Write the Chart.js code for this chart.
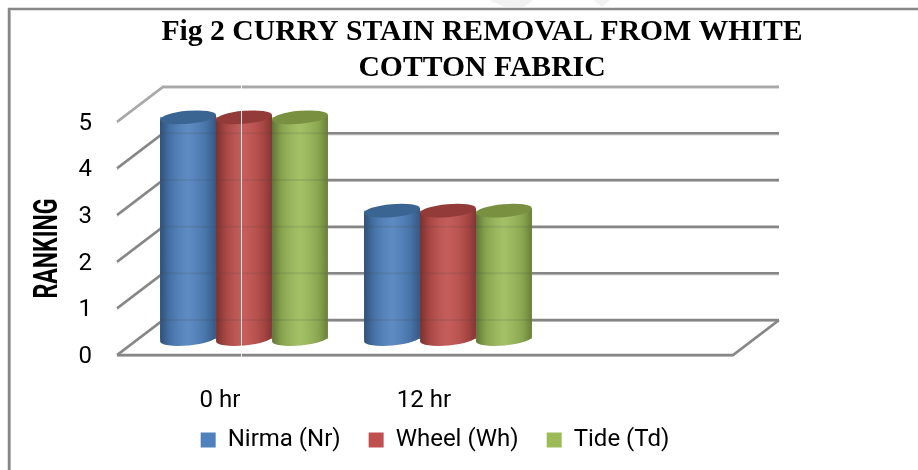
<!DOCTYPE html>
<html>
<head>
<meta charset="utf-8">
<script src="https://cdn.jsdelivr.net/npm/chart.js@4/dist/chart.umd.min.js"></script>
<style>
body { margin: 0; background: #fff; }
#wrap { position: relative; width: 918px; height: 470px; }
</style>
</head>
<body>
<div id="wrap"><canvas id="barChart" width="918" height="470"></canvas></div>
<script>
const categories = ['0 hr', '12 hr', ''];
const nirma = [4.75, 2.75, null];
const wheel = [4.75, 2.75, null];
const tide = [4.75, 2.75, null];
const yTicks = [0, 1, 2, 3, 4, 5];
const yTitle = 'RANKING';

// depth offsets of the fake 3D box, relative to the plane the bars stand on
const FRONT_DY = 16, BACK_DY = -19, FRONT_DX = -25, BACK_DX = 21;

function line(ctx, pts, color, width) {
    ctx.beginPath();
    pts.forEach((p, i) => i ? ctx.lineTo(p[0], p[1]) : ctx.moveTo(p[0], p[1]));
    ctx.strokeStyle = color;
    ctx.lineWidth = width;
    ctx.stroke();
}

const box3d = {
    id: 'box3d',
    beforeInit(chart) {
        // legend is placed by hand in afterLayout, so it should not eat into the axes
        const fit = chart.legend.fit;
        chart.legend.fit = function () {
            fit.call(this);
            this.height = 10;
        };
    },
    afterLayout(chart) {
        // title and legend are not centred on the canvas in the reference
        const t = chart.titleBlock, l = chart.legend;
        t.left = 482 - t.width / 2;
        t.right = 482 + t.width / 2;
        l.left = 435 - l.width / 2;
        l.right = 435 + l.width / 2;
        l.top = 400;
    },
    beforeDraw(chart) {
        const ctx = chart.ctx;
        ctx.save();
        // faint watermark remains at the top edge
        ctx.fillStyle = '#f1f1f1';
        ctx.beginPath();
        ctx.moveTo(489, 0); ctx.lineTo(533, 0); ctx.lineTo(524, 7); ctx.lineTo(505, 7);
        ctx.closePath();
        ctx.moveTo(593, 0); ctx.lineTo(610, 0); ctx.lineTo(602, 7);
        ctx.closePath();
        ctx.fill();
        line(ctx, [[10.5, 470], [10.5, 11]], '#c4c4c4', 1);
        line(ctx, [[9, 470], [9, 9], [918, 9]], '#868686', 2.5);
        ctx.restore();
    },
    beforeDatasetsDraw(chart) {
        const ctx = chart.ctx, a = chart.chartArea, y = chart.scales.y;
        ctx.save();
        yTicks.forEach(v => {
            const py = y.getPixelForValue(v);
            const pts = [[a.left + FRONT_DX, py + FRONT_DY], [a.left + BACK_DX, py + BACK_DY], [a.right + 25, py + BACK_DY]];
            line(ctx, pts.map(p => [p[0], p[1] + 1.5]), '#c8c8c8', 1);
            line(ctx, pts, v === 5 ? '#a8a8a8' : '#868686', 2.5);
        });
        // floor
        const py = y.getPixelForValue(0);
        const floor = [[a.left + FRONT_DX, py + FRONT_DY], [a.right - 21, py + FRONT_DY], [a.right + 25, py + BACK_DY]];
        line(ctx, floor.map(p => [p[0], p[1] + 1.5]), '#c8c8c8', 1);
        line(ctx, floor, '#868686', 2.5);
        ctx.restore();
    },
    afterDatasetDraw(chart, args) {
        const ctx = chart.ctx, y = chart.scales.y;
        const ds = chart.data.datasets[args.index];
        args.meta.data.forEach((bar, i) => {
            if (ds.data[i] === null) return;
            const left = bar.x - bar.width / 2, right = bar.x + bar.width / 2, rx = bar.width / 2;
            const tilt = -0.09, ry = 6.5;
            ctx.save();
            // side of the cylinder: rounded bottom, sloped top
            ctx.beginPath();
            ctx.ellipse(bar.x, bar.base, rx, ry, tilt, 0, Math.PI);
            ctx.lineTo(left, bar.y + 2.5);
            ctx.lineTo(right, bar.y - 2.5);
            ctx.closePath();
            ctx.fillStyle = ds.backgroundColor;
            ctx.fill();
            const g = ctx.createLinearGradient(left, 0, right, 0);
            g.addColorStop(0, 'rgba(0,0,0,0.38)');
            g.addColorStop(0.16, 'rgba(0,0,0,0.14)');
            g.addColorStop(0.5, 'rgba(255,255,255,0.08)');
            g.addColorStop(0.84, 'rgba(0,0,0,0.12)');
            g.addColorStop(1, 'rgba(0,0,0,0.32)');
            ctx.fillStyle = g;
            ctx.fill();
            // grid lines show faintly through the bars
            ctx.clip();
            yTicks.forEach(v => {
                const gy = y.getPixelForValue(v) + BACK_DY;
                line(ctx, [[left, gy], [right, gy]], 'rgba(70,70,70,0.13)', 2);
            });
            ctx.restore();
            // top cap
            ctx.beginPath();
            ctx.ellipse(bar.x, bar.y, rx, ry, tilt, 0, Math.PI * 2);
            ctx.fillStyle = ds.capColor;
            ctx.fill();
        });
    },
    afterDraw(chart) {
        const ctx = chart.ctx;
        ctx.save();
        // white scan seam running down through the picture
        line(ctx, [[241.5, 85], [241.5, 358]], 'rgba(255,255,255,0.85)', 1);
        // axis title is squeezed much narrower than any installed font
        ctx.translate(48.5, 248.5);
        ctx.rotate(-Math.PI / 2);
        ctx.scale(0.68, 1);
        ctx.font = 'bold 34px Roboto';
        ctx.fillStyle = '#000';
        ctx.textAlign = 'center';
        ctx.textBaseline = 'middle';
        ctx.fillText(yTitle, 0, 0);
        ctx.restore();
    }
};

const ctx = document.getElementById('barChart').getContext('2d');
new Chart(ctx, {
    type: 'bar',
    data: {
        labels: categories,
        datasets: [
            { label: 'Nirma (Nr)', data: nirma, backgroundColor: '#4F81BD', capColor: '#3A6491' },
            { label: 'Wheel (Wh)', data: wheel, backgroundColor: '#C0504D', capColor: '#933B39' },
            { label: 'Tide (Td)', data: tide, backgroundColor: '#9BBB59', capColor: '#789040' }
        ]
    },
    options: {
        responsive: false,
        animation: false,
        datasets: { bar: { categoryPercentage: 0.823, barPercentage: 1 } },
        layout: { padding: { left: 30, right: 164, top: 0, bottom: 0 } },
        scales: {
            x: {
                grid: { display: false },
                border: { display: false },
                afterFit(scale) { scale.height = 121; },
                ticks: {
                    color: '#000',
                    font: { family: 'Roboto', size: 24 },
                    labelOffset: -24,
                    padding: 40,
                    maxRotation: 0
                }
            },
            y: {
                min: 0,
                max: 5,
                grid: { display: false },
                border: { display: false },
                afterFit(scale) { scale.width = 112; },
                ticks: {
                    color: '#000',
                    font: { family: 'Roboto', size: 24 },
                    stepSize: 1,
                    labelOffset: 18,
                    padding: 42
                }
            }
        },
        plugins: {
            title: {
                display: true,
                text: ['Fig 2 CURRY STAIN REMOVAL FROM WHITE', 'COTTON FABRIC'],
                color: '#000',
                font: { family: '"Liberation Serif"', size: 29.7, weight: 'bold', lineHeight: 1.2 },
                padding: { top: 15, bottom: 19.4 }
            },
            legend: {
                position: 'bottom',
                labels: {
                    color: '#000',
                    font: { family: 'Roboto', size: 24 },
                    boxWidth: 15,
                    boxHeight: 15,
                    padding: 28
                }
            },
            tooltip: { enabled: false }
        }
    },
    plugins: [box3d]
});
</script>
</body>
</html>
